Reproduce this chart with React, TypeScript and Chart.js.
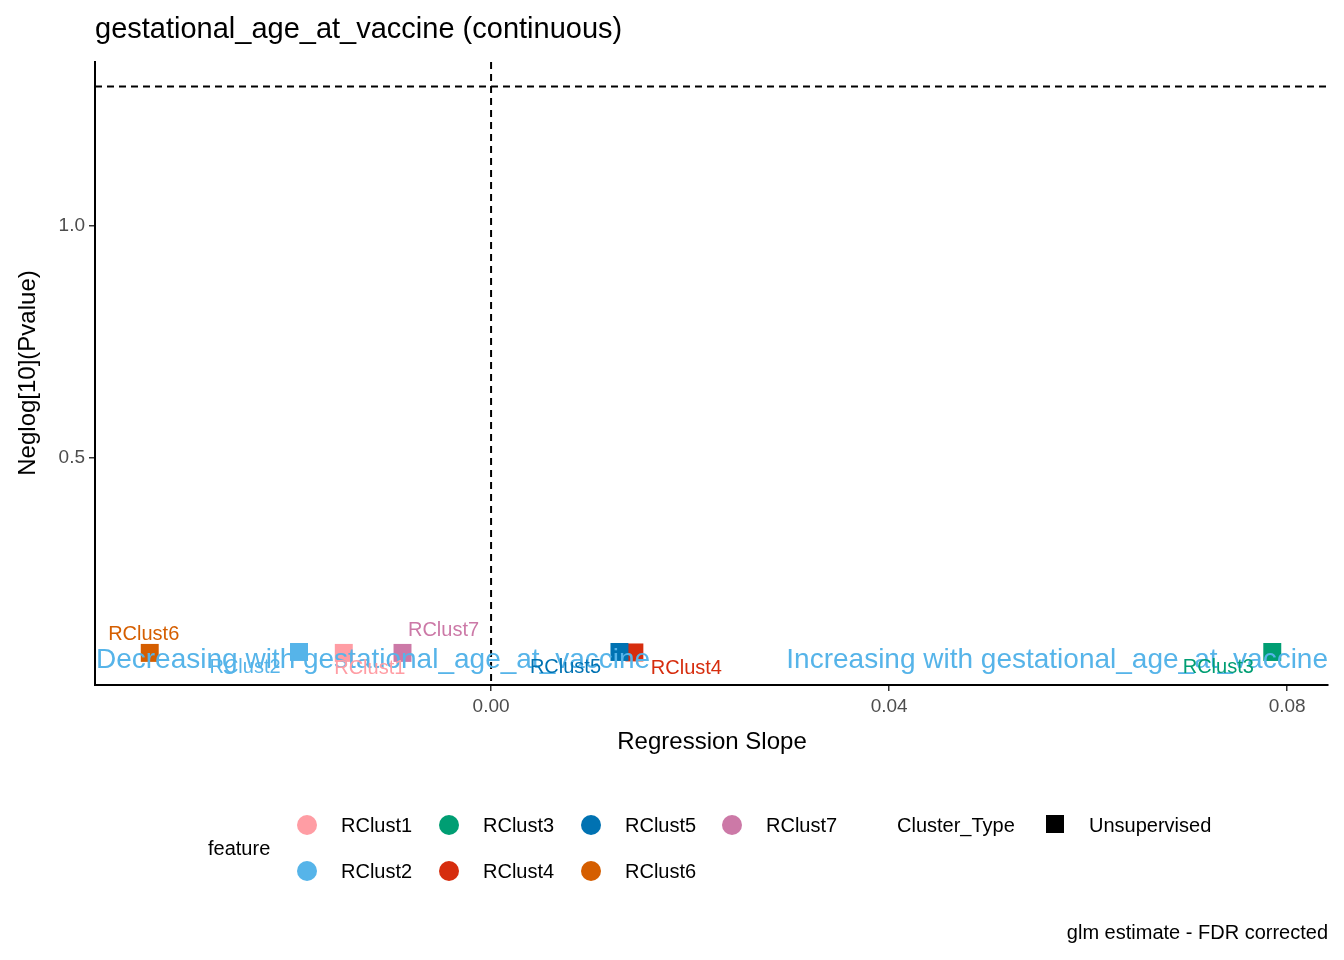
import React, { useEffect, useRef } from "react";
import { Chart, registerables } from "chart.js";
Chart.register(...registerables);

const features = ["RClust1", "RClust2", "RClust3", "RClust4", "RClust5", "RClust6", "RClust7"];
const slopes = [-0.0148, -0.0193, 0.0785, 0.0144, 0.0129, -0.0343, -0.0089];
const neglogP = [0.078, 0.080, 0.080, 0.079, 0.080, 0.078, 0.078];
const colors = ["#FF9DA4", "#56B4E9", "#009E73", "#D62D0E", "#0072B2", "#D55E00", "#CC79A7"];
const labelOffsets = [[26, 16], [-54, 16], [-54, 16], [52, 16], [-54, 16], [-6, -18], [41, -22]];
const xTicks = [0, 0.04, 0.08];
const yTicks = [0.5, 1.0];
const threshold = 1.301;

const FONT = "'Liberation Sans', Arial, sans-serif";

export default function App() {
  const ref = useRef<HTMLCanvasElement>(null);
  useEffect(() => {
    const overlay = {
      id: "overlay",
      beforeDatasetsDraw(chart: any) {
        const { ctx, chartArea: a, scales } = chart;
        const x = scales.x, y = scales.y;
        ctx.save();
        ctx.strokeStyle = "#000";
        ctx.lineWidth = 2;
        ctx.setLineDash([7, 5]);
        const x0 = x.getPixelForValue(0);
        ctx.beginPath(); ctx.moveTo(x0, a.top); ctx.lineTo(x0, a.bottom); ctx.stroke();
        const yt = y.getPixelForValue(threshold);
        ctx.beginPath(); ctx.moveTo(a.left, yt); ctx.lineTo(a.right, yt); ctx.stroke();
        ctx.restore();
      },
      afterDatasetsDraw(chart: any) {
        const { ctx, chartArea: a, scales } = chart;
        const x = scales.x, y = scales.y;
        ctx.save();
        ctx.font = `28px ${FONT}`;
        ctx.fillStyle = "#56B4E9";
        ctx.textBaseline = "middle";
        const yAnn = y.getPixelForValue(neglogP[0]) + 7;
        ctx.textAlign = "left";
        ctx.fillText("Decreasing with gestational_age_at_vaccine", a.left + 1, yAnn);
        ctx.textAlign = "right";
        ctx.fillText("Increasing with gestational_age_at_vaccine", a.right, yAnn);
        ctx.font = `20px ${FONT}`;
        ctx.textAlign = "center";
        features.forEach((f, i) => {
          const px = x.getPixelForValue(slopes[i]);
          const py = y.getPixelForValue(neglogP[i]);
          const [dx, dy] = labelOffsets[i];
          ctx.fillStyle = colors[i];
          ctx.fillText(f, px + dx, py + dy);
        });
        ctx.restore();
      },
      afterDraw(chart: any) {
        const { ctx } = chart;
        ctx.save();
        ctx.fillStyle = "#000";
        ctx.textBaseline = "middle";
        ctx.font = `29px ${FONT}`;
        ctx.textAlign = "left";
        ctx.fillText("gestational_age_at_vaccine (continuous)", 95, 30);
        ctx.font = `24px ${FONT}`;
        ctx.textAlign = "center";
        ctx.fillText("Regression Slope", 712, 742);
        ctx.save();
        ctx.translate(28, 373);
        ctx.rotate(-Math.PI / 2);
        ctx.fillText("Neglog[10](Pvalue)", 0, 0);
        ctx.restore();
        ctx.font = `20px ${FONT}`;
        ctx.textAlign = "right";
        ctx.fillText("glm estimate - FDR corrected", 1328, 933);
        ctx.textAlign = "left";
        ctx.fillText("feature", 208, 849);
        ctx.fillText("Cluster_Type", 897, 826);
        ctx.fillText("Unsupervised", 1089, 826);
        ctx.fillRect(1046, 815, 18, 18);
        const cx = [307, 449, 591, 732];
        features.forEach((f, i) => {
          const col = i % 2 === 0 ? i / 2 : (i - 1) / 2;
          const row = i % 2;
          const yy = row === 0 ? 825 : 871;
          ctx.fillStyle = colors[i];
          ctx.beginPath(); ctx.arc(cx[col], yy, 10, 0, Math.PI * 2); ctx.fill();
          ctx.fillStyle = "#000";
          ctx.fillText(f, cx[col] + 34, yy + 1);
        });
        ctx.restore();
      },
    };
    const chart = new Chart(ref.current!, {
      type: "scatter",
      data: {
        datasets: [{
          data: features.map((_, i) => ({ x: slopes[i], y: neglogP[i] })),
          backgroundColor: colors,
          borderWidth: 0,
          pointStyle: "rect",
          pointRadius: 12.7,
        }],
      },
      options: {
        responsive: false,
        animation: false,
        layout: { padding: { top: 62, right: 16, left: 0, bottom: 0 } },
        plugins: { legend: { display: false }, tooltip: { enabled: false } },
        scales: {
          x: {
            type: "linear", min: -0.0398, max: 0.0841,
            afterFit: (s: any) => { s.height = 275; },
            afterBuildTicks: (s: any) => { s.ticks = xTicks.map((v) => ({ value: v })); },
            ticks: { color: "#4D4D4D", font: { size: 19, family: FONT }, padding: 4, callback: (v: any) => Number(v).toFixed(2) },
            grid: { drawOnChartArea: false, drawTicks: true, tickLength: 6, color: "#333", lineWidth: 1.5 },
            border: { color: "#000", width: 2 },
          },
          y: {
            type: "linear", min: 0.0087, max: 1.354,
            afterFit: (s: any) => { s.width = 95; },
            afterBuildTicks: (s: any) => { s.ticks = yTicks.map((v) => ({ value: v })); },
            ticks: { color: "#4D4D4D", font: { size: 19, family: FONT }, padding: 4, callback: (v: any) => Number(v).toFixed(1) },
            grid: { drawOnChartArea: false, drawTicks: true, tickLength: 6, color: "#333", lineWidth: 1.5 },
            border: { color: "#000", width: 2 },
          },
        },
      },
      plugins: [overlay],
    });
    return () => chart.destroy();
  }, []);
  return (
    <div style={{ position: "fixed", left: 0, top: 0, background: "#fff" }}>
      <canvas ref={ref} width={1344} height={960} style={{ width: 1344, height: 960 }} />
    </div>
  );
}
